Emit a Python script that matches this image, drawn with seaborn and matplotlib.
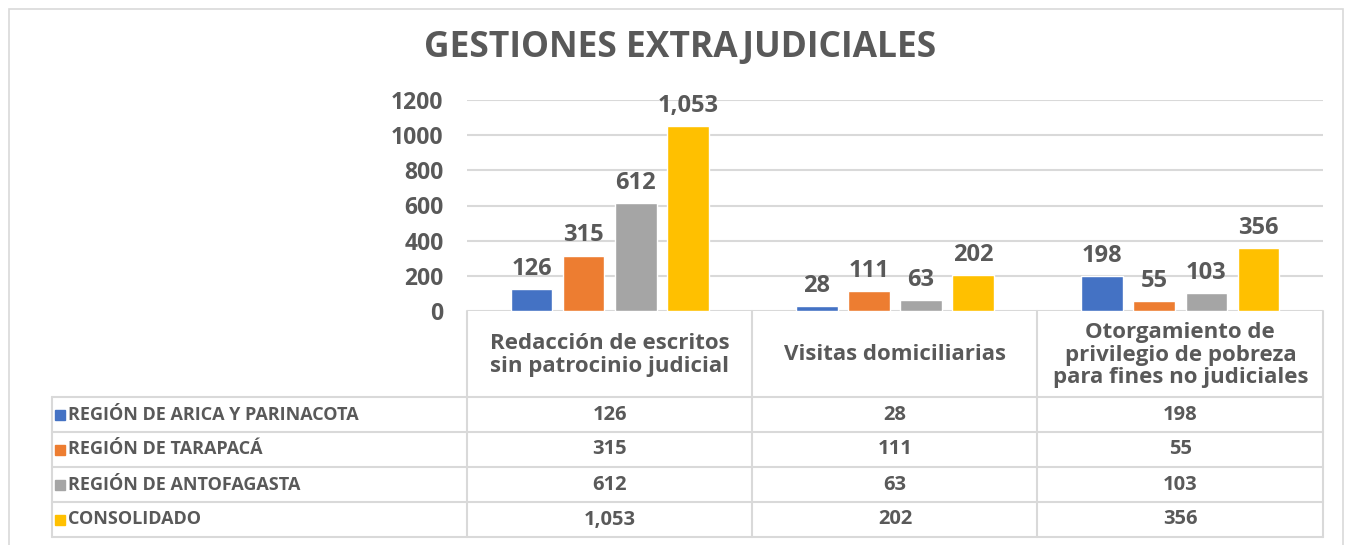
"""Gestiones extrajudiciales: barras agrupadas con tabla de datos debajo."""
import matplotlib

matplotlib.use("Agg")
import matplotlib.pyplot as plt
import matplotlib.transforms as mtransforms
import pandas as pd
import seaborn as sns
from matplotlib.lines import Line2D
from matplotlib.patches import Rectangle

TITLE = "GESTIONES EXTRAJUDICIALES"
CATEGORIES = [
    "Redacción de escritos\nsin patrocinio judicial",
    "Visitas domiciliarias",
    "Otorgamiento de\nprivilegio de pobreza\npara fines no judiciales",
]
SERIES = [
    "REGIÓN DE ARICA Y PARINACOTA",
    "REGIÓN DE TARAPACÁ",
    "REGIÓN DE ANTOFAGASTA",
    "CONSOLIDADO",
]
ARICA = [126, 28, 198]
TARAPACA = [315, 111, 55]
ANTOFAGASTA = [612, 63, 103]
CONSOLIDADO = [1053, 202, 356]
COLORS = ["#4472C4", "#ED7D31", "#A5A5A5", "#FFC000"]
Y_TICKS = [0, 200, 400, 600, 800, 1000, 1200]

TEXT = "#595959"
GRID = "#D9D9D9"
W, H = 1353, 545


def fx(px):
    return px / W


def fy(py):
    return 1 - py / H


values = [ARICA, TARAPACA, ANTOFAGASTA, CONSOLIDADO]
df = pd.DataFrame({
    "categoria": [c for _ in SERIES for c in CATEGORIES],
    "serie": [s for s in SERIES for _ in CATEGORIES],
    "valor": [v for vals in values for v in vals],
})

sns.set_theme(style="white")
plt.rcParams["font.family"] = ["Open Sans", "DejaVu Sans"]

fig = plt.figure(figsize=(W / 100, H / 100), dpi=100)
fig.patches.append(Rectangle((fx(9), fy(560)), fx(1343) - fx(9), fy(9) - fy(560),
                             transform=fig.transFigure, fill=False, ec=GRID, lw=1.2))

ax = fig.add_axes([fx(467), fy(311), fx(1323) - fx(467), fy(100) - fy(311)])
sns.barplot(data=df, x="categoria", y="valor", hue="serie", order=CATEGORIES,
            hue_order=SERIES, palette=COLORS, width=0.73, gap=0.2,
            saturation=1, legend=False, ax=ax)

for container, vals in zip(ax.containers, values):
    ax.bar_label(container, labels=[f"{v:,}" for v in vals], padding=6,
                 fontsize=17, fontweight="bold", color=TEXT)

ax.set_ylim(0, 1200)
ax.set_yticks(Y_TICKS)
ax.yaxis.grid(True, color=GRID, lw=1.5)
ax.set_axisbelow(True)
for s in ax.spines.values():
    s.set_visible(False)
ax.set_xlabel(""); ax.set_ylabel("")
ax.tick_params(axis="x", bottom=False, labelbottom=False)
ax.tick_params(axis="y", length=0, pad=17, labelsize=16.5, labelcolor=TEXT)
for lbl in ax.get_yticklabels():
    lbl.set_fontweight("bold")

fig.text(fx(680), fy(48), TITLE, ha="center", va="center", fontsize=25.5,
         fontweight="bold", color=TEXT)

# tabla de datos
trans = mtransforms.blended_transform_factory(ax.transData, fig.transFigure)
row_edges = [397, 432, 467, 502, 537]
for xp in [467, 752, 1037, 1323]:
    fig.add_artist(Line2D([fx(xp)] * 2, [fy(311), fy(537)], transform=fig.transFigure,
                          color=GRID, lw=1.5))
fig.add_artist(Line2D([fx(52)] * 2, [fy(397), fy(537)], transform=fig.transFigure,
                      color=GRID, lw=1.5))
for yp in row_edges:
    fig.add_artist(Line2D([fx(52), fx(1323)], [fy(yp)] * 2, transform=fig.transFigure,
                          color=GRID, lw=1.5))

for i, cat in enumerate(CATEGORIES):
    fig.text(i, fy(355), cat, transform=trans, ha="center", va="center",
             fontsize=16, fontweight="bold", color=TEXT, linespacing=1.12)

for r, (name, color, vals) in enumerate(zip(SERIES, COLORS, values)):
    yc = (row_edges[r] + row_edges[r + 1]) / 2
    fig.patches.append(Rectangle((fx(55), fy(yc + 5)), fx(10), fy(0) - fy(10),
                                 transform=fig.transFigure, color=color))
    fig.text(fx(68), fy(yc), name, ha="left", va="center", fontsize=13,
             fontweight="bold", color=TEXT)
    for i, v in enumerate(vals):
        fig.text(i, fy(yc), f"{v:,}", transform=trans, ha="center", va="center",
                 fontsize=14.5, fontweight="bold", color=TEXT)

fig.savefig("out.png", dpi=100)
